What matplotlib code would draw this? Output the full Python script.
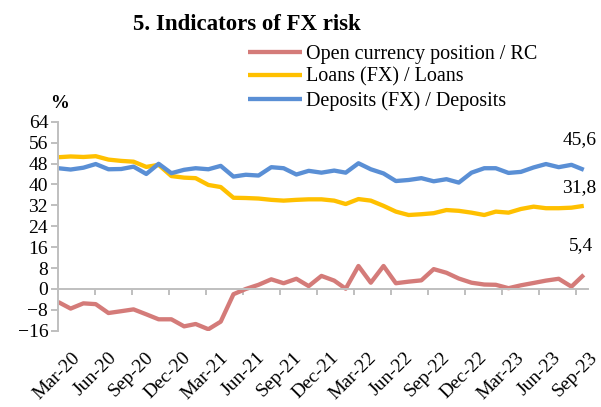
import numpy as np
import pandas as pd
import matplotlib
matplotlib.use("Agg")
import matplotlib.pyplot as plt
import matplotlib.dates as mdates
from matplotlib.transforms import ScaledTranslation

# data (monthly, Mar-20 .. Sep-23, %)
dates = pd.date_range("2020-03-31", periods=43, freq="ME")

open_position = [-5.0, -7.5, -5.5, -5.8, -9.2, -8.5, -7.8, -9.7, -11.6, -11.6,
                 -14.3, -13.4, -15.4, -12.5, -2.0, 0.0, 1.6, 3.7, 2.2, 3.9,
                 1.1, 5.0, 3.2, 0.1, 8.8, 2.4, 8.8, 2.2, 2.8, 3.3,
                 7.6, 6.2, 4.0, 2.4, 1.7, 1.6, 0.3, 1.4, 2.3, 3.2,
                 3.9, 0.9, 5.4]
loans_fx = [50.4, 50.7, 50.5, 50.8, 49.5, 49.0, 48.7, 46.7, 47.5, 43.2,
            42.6, 42.4, 39.8, 39.0, 34.9, 34.8, 34.6, 34.1, 33.8, 34.1,
            34.3, 34.3, 33.8, 32.5, 34.4, 33.8, 31.8, 29.6, 28.3, 28.6,
            29.0, 30.2, 29.9, 29.2, 28.3, 29.6, 29.2, 30.6, 31.5, 30.9,
            30.9, 31.1, 31.8]
deposits_fx = [46.2, 45.7, 46.4, 47.8, 45.8, 45.9, 46.8, 44.0, 47.9, 44.3,
               45.6, 46.2, 45.8, 47.1, 43.0, 43.7, 43.4, 46.6, 46.2, 43.8,
               45.2, 44.5, 45.3, 44.5, 48.1, 45.8, 44.2, 41.3, 41.7, 42.4,
               41.2, 42.0, 40.7, 44.5, 46.2, 46.2, 44.4, 44.8, 46.5, 47.8,
               46.6, 47.5, 45.6]

labels = ["Open currency position / RC", "Loans (FX) / Loans", "Deposits (FX) / Deposits"]
colors = ["#d47b79", "#ffc000", "#5a8fd5"]
end_offsets = [(-2, 21), (-3, 13), (-3, 21.5)]  # points

plt.rcParams["font.family"] = ["Liberation Serif", "DejaVu Serif"]

fig = plt.figure(figsize=(6.01, 4.07), dpi=100)
W, H = 601, 407
ax = fig.add_axes([58.3 / W, 1 - 330.8 / H, 530 / W, 209.1 / H])

series = [open_position, loans_fx, deposits_fx]
for vals, lab, col, off in zip(series, labels, colors, end_offsets):
    ax.plot(dates, vals, color=col, lw=3.1, label=lab, solid_joinstyle="round",
            solid_capstyle="butt")
    ax.annotate(f"{vals[-1]:.1f}".replace(".", ","), (dates[-1], vals[-1]),
                xytext=off, textcoords="offset points", ha="center", va="center",
                fontsize=14)

ax.set_ylim(-16, 64)
ax.set_yticks(np.arange(-16, 65, 8))
ax.set_xlim(dates[0], dates[-1] + pd.Timedelta(days=11))
ticks = pd.date_range(dates[0], periods=15, freq="90D")
ax.set_xticks(ticks)
ax.xaxis.set_major_formatter(mdates.DateFormatter("%b-%y"))

grey = "#bfbfbf"
for s in ["top", "right"]:
    ax.spines[s].set_visible(False)
ax.spines["bottom"].set_position(("data", 0))
for s in ["bottom", "left"]:
    ax.spines[s].set_color(grey)
    ax.spines[s].set_linewidth(1.4)
ax.tick_params(axis="y", direction="out", length=4.7, width=1.4, color=grey,
               labelsize=14, pad=2.6)
ax.tick_params(axis="x", direction="out", length=4.3, width=1.4, color=grey,
               labelsize=14, pad=39.0)
shift = ScaledTranslation(13 / 100, 0, fig.dpi_scale_trans)
for t in ax.get_xticklabels():
    t.set_rotation(45)
    t.set_ha("right")
    t.set_va("top")
    t.set_rotation_mode("anchor")
    t.set_transform(t.get_transform() + shift)

fig.text(247 / W, 1 - 30 / H, "5. Indicators of FX risk", ha="center",
         va="baseline", fontsize=16.5, fontweight="bold")
fig.text(60 / W, 1 - 103 / H, "%", ha="center", va="center", fontsize=13.5,
         fontweight="bold")

fs = 14.5
leg = fig.legend(loc="upper left", bbox_to_anchor=(248 / W, 1 - 44.5 / H),
                 frameon=False, fontsize=fs, borderpad=0, borderaxespad=0,
                 handlelength=54 / (fs * 100 / 72), handletextpad=0.22,
                 labelspacing=0.2)

fig.savefig("out.png", dpi=100)
